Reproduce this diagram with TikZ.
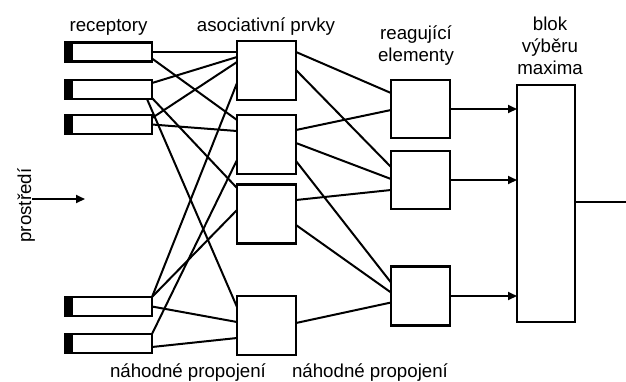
\documentclass[tikz,border=0pt]{standalone}
\usepackage{fontspec}
\setmainfont{Liberation Sans}
\usetikzlibrary{arrows.meta}
\begin{document}
\begin{tikzpicture}[x=1pt,y=-1pt,
  box/.style={draw,line width=2.2pt,minimum width=59pt,minimum height=59pt,inner sep=0pt,outer sep=0pt},
  rec/.style={draw,line width=2.2pt,minimum width=87pt,minimum height=19pt,inner sep=0pt,outer sep=0pt},
  wire/.style={line width=2pt},
  arr/.style={line width=2pt,-{Triangle[length=9pt,width=8pt]}},
  lbl/.style={font=\fontsize{18.7}{22}\selectfont,inner sep=0pt,anchor=base}]
\useasboundingbox (0,0) rectangle (626,381);

% receptors
\node[rec] (r1) at (108.5,52) {};
\node[rec] (r2) at (108.5,89.5) {};
\node[rec] (r3) at (108.5,124.5) {};
\node[rec] (r4) at (108.5,306.5) {};
\node[rec] (r5) at (108.5,343.5) {};
\foreach \r in {r1,r2,r3,r4,r5}
  \fill (\r.north west) rectangle ([xshift=8pt]\r.south west);

% associative elements
\node[box] (a1) at (266.5,70.5) {};
\node[box] (a2) at (266.5,144.5) {};
\node[box] (a3) at (266.5,214) {};
\node[box] (a4) at (266.5,325.5) {};

% reacting elements
\node[box,minimum height=58pt] (e1) at (420.5,109) {};
\node[box,minimum height=58pt] (e2) at (420.5,180) {};
\node[box] (e3) at (420.5,296) {};

% maximum selection block
\node[draw,line width=2.2pt,minimum width=58pt,minimum height=237pt,inner sep=0pt,outer sep=0pt] (m) at (546,203.5) {};

% labels
\node[lbl] (lrec) at (108.5,31) {receptory};
\node[lbl] (lasoc) at (266,31) {asociativní prvky};
\node[lbl] (lre1) at (416,39) {reagující};
\node[lbl] (lre2) at (416,61) {elementy};
\node[lbl] (lb1) at (550,30) {blok};
\node[lbl] (lb2) at (550,52) {výběru};
\node[lbl] (lb3) at (550,74) {maxima};
\node[lbl] (ln1) at (188,377) {náhodné propojení};
\node[lbl] (ln2) at (370,377) {náhodné propojení};
\node[lbl,rotate=90] (lenv) at (31,205.5) {prostředí};

% environment arrow
\coordinate (envs) at (32,199);
\coordinate (enve) at (85,199);
\draw[arr] (envs) -- (enve);

% receptors -> associative
\draw[wire] (r1.east) -- (r1.east -| a1.west);
\draw[wire] ([yshift=-16pt]r1.north east) -- ([yshift=-5pt]a2.north west);
\draw[wire] ([yshift=-3pt]r2.north east) -- ([yshift=-16pt]a1.north west);
\draw[wire] ([yshift=-3pt]r3.north east) -- ([yshift=-21pt]a1.north west);
\draw[wire] (r3.east) -- ([yshift=-16pt]a2.north west);
\draw[wire] ([yshift=1pt]r2.south east) -- ([yshift=-3.5pt]a3.north west);
\draw[wire] ([xshift=-5pt]r2.south east) -- ([yshift=-11pt]a4.north west);
\draw[wire] ([yshift=-42pt]a1.north west) -- (r4.north east);
\draw[wire] ([yshift=-45pt]a2.north west) -- (r5.north east);
\draw[wire] ([yshift=-25.5pt]a3.north west) -- (r4.north east);
\draw[wire] (r4.east) -- ([yshift=-26pt]a4.north west);
\draw[wire] ([yshift=-13pt]r5.north east) -- ([yshift=-42pt]a4.north west);

% associative -> reacting
\draw[wire] ([yshift=-11pt]a1.north east) -- ([yshift=-13pt]e1.north west);
\draw[wire] ([yshift=-29pt]a1.north east) -- ([yshift=-16pt]e2.north west);
\draw[wire] ([yshift=-15pt]a2.north east) -- ([yshift=-30pt]e1.north west);
\draw[wire] ([yshift=-28pt]a2.north east) -- ([yshift=-28pt]e2.north west);
\draw[wire] ([yshift=-46pt]a2.north east) -- ([yshift=-16pt]e3.north west);
\draw[wire] ([yshift=-15.5pt]a3.north east) -- ([yshift=-39pt]e2.north west);
\draw[wire] ([yshift=-40.5pt]a3.north east) -- ([yshift=-26pt]e3.north west);
\draw[wire] ([yshift=-27pt]a4.north east) -- ([yshift=-36pt]e3.north west);

% reacting -> max block
\draw[arr] (e1.east) -- (e1.east -| m.west);
\draw[arr] (e2.east) -- (e2.east -| m.west);
\draw[arr] (e3.east) -- (e3.east -| m.west);

% output
\coordinate (out) at (626,202);
\draw[wire] (m.east |- out) -- (out);
\end{tikzpicture}
\end{document}
